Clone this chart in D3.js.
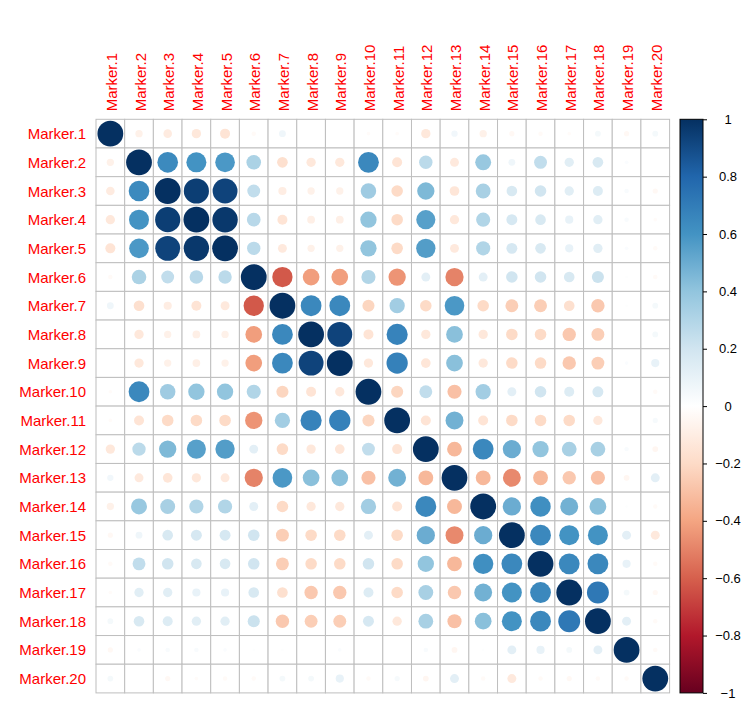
<!DOCTYPE html>
<html>
<head>
<meta charset="utf-8">
<script src="https://cdn.jsdelivr.net/npm/d3@7"></script>
<style>
  html, body { margin: 0; padding: 0; background: #fff; }
  svg { display: block; }
  text { font-family: "Liberation Sans", Arial, sans-serif; }
</style>
</head>
<body>
<svg id="chart" width="756" height="727"></svg>
<script>
const labels = ["Marker.1","Marker.2","Marker.3","Marker.4","Marker.5","Marker.6","Marker.7","Marker.8","Marker.9","Marker.10",
                "Marker.11","Marker.12","Marker.13","Marker.14","Marker.15","Marker.16","Marker.17","Marker.18","Marker.19","Marker.20"];

const corr = [
  [1, -0.08, -0.11, -0.13, -0.15, -0.03, 0.07, 0.00, 0.00, -0.02, -0.02, -0.13, 0.06, -0.08, -0.04, -0.03, -0.02, 0.05, -0.04, 0.05],
  [-0.08, 1, 0.64, 0.60, 0.58, 0.32, -0.17, -0.13, -0.13, 0.65, -0.15, 0.27, -0.12, 0.38, 0.07, 0.25, 0.13, 0.17, 0.02, 0.00],
  [-0.11, 0.64, 1, 0.95, 0.93, 0.25, -0.10, -0.08, -0.08, 0.36, -0.20, 0.45, -0.14, 0.33, 0.17, 0.20, 0.13, 0.15, 0.03, -0.04],
  [-0.13, 0.60, 0.95, 1, 0.97, 0.28, -0.15, -0.09, -0.09, 0.40, -0.20, 0.55, -0.13, 0.30, 0.18, 0.17, 0.10, 0.13, 0.03, -0.02],
  [-0.15, 0.58, 0.93, 0.97, 1, 0.27, -0.12, -0.08, -0.08, 0.40, -0.20, 0.56, -0.12, 0.30, 0.18, 0.17, 0.10, 0.13, 0.02, -0.03],
  [-0.03, 0.32, 0.25, 0.28, 0.27, 1, -0.62, -0.42, -0.42, 0.30, -0.45, 0.12, -0.50, 0.12, 0.20, 0.20, 0.17, 0.22, 0.01, -0.03],
  [0.07, -0.17, -0.10, -0.15, -0.12, -0.62, 1, 0.65, 0.65, -0.22, 0.35, -0.20, 0.58, -0.20, -0.25, -0.25, -0.17, -0.27, 0.01, 0.05],
  [0.00, -0.13, -0.08, -0.09, -0.08, -0.42, 0.65, 1, 0.93, -0.15, 0.67, -0.13, 0.42, -0.13, -0.20, -0.20, -0.27, -0.25, 0.00, 0.05],
  [0.00, -0.13, -0.08, -0.09, -0.08, -0.42, 0.65, 0.93, 1, -0.13, 0.68, -0.14, 0.42, -0.13, -0.20, -0.20, -0.27, -0.25, 0.02, 0.10],
  [-0.02, 0.65, 0.36, 0.40, 0.40, 0.30, -0.22, -0.15, -0.13, 1, -0.22, 0.25, -0.30, 0.35, 0.12, 0.20, 0.15, 0.18, 0.00, -0.03],
  [-0.02, -0.15, -0.20, -0.20, -0.20, -0.45, 0.35, 0.67, 0.68, -0.22, 1, -0.15, 0.48, -0.15, -0.20, -0.20, -0.20, -0.13, 0.00, 0.04],
  [-0.13, 0.27, 0.45, 0.55, 0.56, 0.12, -0.20, -0.13, -0.14, 0.25, -0.15, 1, -0.33, 0.65, 0.50, 0.40, 0.33, 0.33, 0.03, -0.05],
  [0.06, -0.12, -0.14, -0.13, -0.12, -0.50, 0.58, 0.42, 0.42, -0.30, 0.48, -0.33, 1, -0.33, -0.48, -0.33, -0.27, -0.30, -0.05, 0.12],
  [-0.08, 0.38, 0.33, 0.30, 0.30, 0.12, -0.20, -0.13, -0.13, 0.35, -0.15, 0.65, -0.33, 1, 0.50, 0.62, 0.48, 0.42, 0.01, -0.03],
  [-0.04, 0.07, 0.17, 0.18, 0.18, 0.20, -0.25, -0.20, -0.20, 0.12, -0.20, 0.50, -0.48, 0.50, 1, 0.65, 0.60, 0.60, 0.12, -0.12],
  [-0.03, 0.25, 0.20, 0.17, 0.17, 0.20, -0.25, -0.20, -0.20, 0.20, -0.20, 0.40, -0.33, 0.62, 0.65, 1, 0.65, 0.65, 0.10, -0.03],
  [-0.02, 0.13, 0.13, 0.10, 0.10, 0.17, -0.17, -0.27, -0.27, 0.15, -0.20, 0.33, -0.27, 0.48, 0.60, 0.65, 1, 0.72, 0.05, -0.04],
  [0.05, 0.17, 0.15, 0.13, 0.13, 0.22, -0.27, -0.25, -0.25, 0.18, -0.13, 0.33, -0.30, 0.42, 0.60, 0.65, 0.72, 1, 0.12, -0.03],
  [-0.04, 0.02, 0.03, 0.03, 0.02, 0.01, 0.01, 0.00, 0.02, 0.00, 0.00, 0.03, -0.05, 0.01, 0.12, 0.10, 0.05, 0.12, 1, -0.03],
  [0.05, 0.00, -0.04, -0.02, -0.03, -0.03, 0.05, 0.05, 0.10, -0.03, 0.04, -0.05, 0.12, -0.03, -0.12, -0.03, -0.04, -0.03, -0.03, 1]
];

const paletteColors = ["#67001F","#B2182B","#D6604D","#F4A582","#FDDBC7","#FFFFFF","#D1E5F0","#92C5DE","#4393C3","#2166AC","#053061"];
const colorbarTicks = [-1, -0.8, -0.6, -0.4, -0.2, 0, 0.2, 0.4, 0.6, 0.8, 1];

const svg = d3.select("#chart");

const gx0 = 96, gy0 = 119.3, gSize = 573.6;
const x = d3.scaleBand().domain(labels).range([gx0, gx0 + gSize]);
const y = d3.scaleBand().domain(labels).range([gy0, gy0 + gSize]);
const cw = x.bandwidth();

const color = d3.scaleLinear()
  .domain(d3.range(paletteColors.length).map(i => -1 + 2 * i / (paletteColors.length - 1)))
  .range(paletteColors)
  .interpolate(d3.interpolateRgb);

const cells = [];
corr.forEach((row, i) => row.forEach((v, j) => cells.push({r: labels[i], c: labels[j], v})));

// grid
svg.append("g").selectAll("rect").data(cells).join("rect")
  .attr("x", d => x(d.c)).attr("y", d => y(d.r))
  .attr("width", cw).attr("height", cw)
  .attr("fill", "#fff").attr("stroke", "#BEBEBE").attr("stroke-width", 1);

// circles
svg.append("g").selectAll("circle").data(cells).join("circle")
  .attr("cx", d => x(d.c) + cw / 2)
  .attr("cy", d => y(d.r) + cw / 2)
  .attr("r", d => 0.45 * Math.sqrt(Math.abs(d.v)) * cw)
  .attr("fill", d => color(d.v));

// row labels
svg.append("g").selectAll("text").data(labels).join("text")
  .attr("x", gx0 - 10).attr("y", d => y(d) + cw / 2)
  .attr("text-anchor", "end").attr("dominant-baseline", "central")
  .attr("font-size", 15).attr("fill", "#FF0000")
  .text(d => d);

// column labels
svg.append("g").selectAll("text").data(labels).join("text")
  .attr("transform", d => `translate(${x(d) + cw / 2 + 1},${gy0 - 8}) rotate(-90)`)
  .attr("text-anchor", "start").attr("dominant-baseline", "central")
  .attr("font-size", 15).attr("fill", "#FF0000")
  .text(d => d);

// colorbar
const cbx = 680, cbw = 23;
const cy = d3.scaleLinear().domain([-1, 1]).range([gy0 + gSize, gy0]);
const defs = svg.append("defs");
const grad = defs.append("linearGradient").attr("id", "cbgrad")
  .attr("x1", 0).attr("y1", 1).attr("x2", 0).attr("y2", 0);
paletteColors.forEach((c, i) => {
  grad.append("stop").attr("offset", i / (paletteColors.length - 1)).attr("stop-color", c);
});
svg.append("rect")
  .attr("x", cbx).attr("y", cy(1)).attr("width", cbw).attr("height", cy(-1) - cy(1))
  .attr("fill", "url(#cbgrad)").attr("stroke", "#000").attr("stroke-width", 1);

const axis = d3.axisRight(cy).tickValues(colorbarTicks).tickSize(4).tickSizeOuter(0)
  .tickFormat(d => d3.format("")(Math.round(d * 10) / 10));
const ag = svg.append("g").attr("transform", `translate(${cbx + cbw},0)`).call(axis);
ag.select(".domain").remove();
ag.selectAll(".tick line").attr("stroke", "#000");
ag.selectAll(".tick text")
  .attr("x", 25).attr("text-anchor", "middle")
  .attr("font-size", 13).attr("fill", "#000")
  .attr("font-family", "'Liberation Sans', Arial, sans-serif");
</script>
</body>
</html>
